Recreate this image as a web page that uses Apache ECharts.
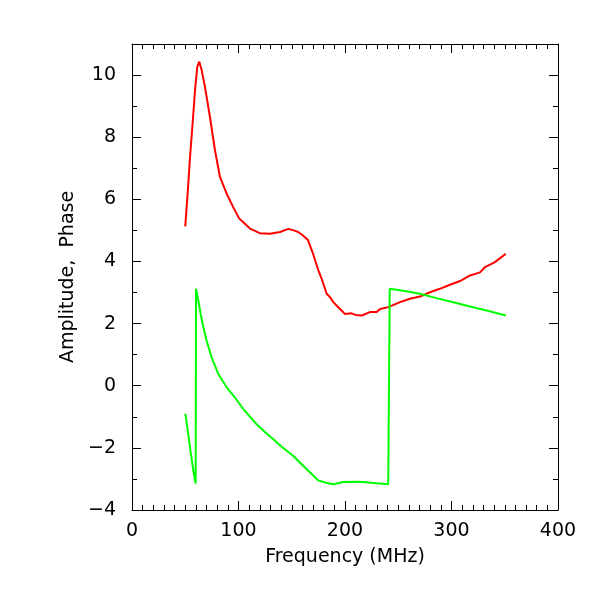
<!DOCTYPE html>
<html>
<head>
<meta charset="utf-8">
<script src="https://cdn.jsdelivr.net/npm/echarts@6/dist/echarts.min.js"></script>
<style>
  html, body { margin: 0; padding: 0; background: #fff; }
  #chart { width: 600px; height: 600px; }
</style>
</head>
<body>
<div id="chart"></div>
<script>
// amplitude (red)
const ampFreq = [50, 50.7, 52, 54.5, 56.9, 59.2, 61.3, 63.2, 65.4, 68.5, 73.2, 77.9, 82.6, 88.9, 95, 100.7, 110.8, 120, 129.6, 139, 146.8, 152, 156, 160, 165, 170, 175, 178, 182.8, 186, 189, 193, 200, 206, 210, 215.7, 223.5, 229.7, 233, 240.7, 242, 251.6, 261, 270.4, 279.8, 289, 298.6, 308, 317.4, 326.8, 331.5, 340.8, 351];
const ampVals = [5.13, 5.16, 6.07, 7.36, 8.44, 9.52, 10.27, 10.43, 10.16, 9.62, 8.65, 7.58, 6.72, 6.18, 5.75, 5.38, 5.06, 4.91, 4.89, 4.95, 5.05, 5.0, 4.95, 4.85, 4.7, 4.25, 3.71, 3.45, 2.96, 2.85, 2.69, 2.55, 2.31, 2.33, 2.28, 2.26, 2.37, 2.37, 2.47, 2.53, 2.5, 2.69, 2.8, 2.87, 3.01, 3.12, 3.25, 3.37, 3.55, 3.65, 3.82, 3.98, 4.25];

// phase (green)
const phaseFreq = [50, 50.4, 54.5, 57.6, 59.8, 60.1, 62.3, 64.5, 67, 70.1, 74.8, 81, 88.9, 96.7, 104.5, 117, 125, 132.7, 140, 151.5, 164, 175, 182, 189, 198.4, 214, 229.7, 240.6, 241, 242, 254.8, 270.4, 286, 301.7, 317.4, 333, 351];
const phaseVals = [-0.9, -0.97, -1.99, -2.74, -3.15, 3.12, 2.74, 2.31, 1.88, 1.45, 0.91, 0.38, -0.05, -0.38, -0.75, -1.24, -1.5, -1.72, -1.95, -2.26, -2.69, -3.05, -3.12, -3.17, -3.1, -3.09, -3.14, -3.17, -3.17, 3.12, 3.06, 2.96, 2.82, 2.69, 2.55, 2.42, 2.26];

const xMin = 0, xMax = 400, xStep = 100;
const yMin = -4, yMax = 11, yStep = 2;

const font = "DejaVu Sans";
const chart = echarts.init(document.getElementById("chart"));

function pairs(xs, ys) {
  return xs.map((x, i) => [x, ys[i]]);
}

const lineStyle = { color: "#000", width: 1 };

function xAxis(position, showLabel) {
  return {
    type: "value",
    position: position,
    min: xMin,
    max: xMax,
    interval: xStep,
    name: showLabel ? "Frequency (MHz)" : "",
    nameLocation: "middle",
    nameGap: 38,
    nameTextStyle: { fontFamily: font, fontSize: 19, color: "#000" },
    axisLine: { show: true, onZero: false, lineStyle: lineStyle },
    axisTick: { show: true, inside: true, length: 9, lineStyle: lineStyle },
    minorTick: { show: true, splitNumber: 10, length: 5, lineStyle: lineStyle },
    axisLabel: { show: showLabel, fontFamily: font, fontSize: 19, color: "#000", margin: 12 },
    splitLine: { show: false },
    minorSplitLine: { show: false }
  };
}

function yAxis(position, showLabel) {
  return {
    type: "value",
    position: position,
    min: yMin,
    max: yMax,
    interval: yStep,
    name: showLabel ? "Amplitude,  Phase" : "",
    nameLocation: "middle",
    nameGap: 54,
    nameRotate: 90,
    nameTextStyle: { fontFamily: font, fontSize: 19, color: "#000" },
    axisLine: { show: true, onZero: false, lineStyle: lineStyle },
    axisTick: { show: true, inside: true, length: 9, lineStyle: lineStyle },
    minorTick: { show: true, splitNumber: 2, length: 5, lineStyle: lineStyle },
    axisLabel: {
      show: showLabel, fontFamily: font, fontSize: 19, color: "#000", margin: 16,
      formatter: (v) => (v > 10 ? "" : String(v).replace("-", "\u2212"))
    },
    splitLine: { show: false },
    minorSplitLine: { show: false }
  };
}

chart.setOption({
  animation: false,
  backgroundColor: "#fff",
  grid: { left: 132, right: 42, top: 44, bottom: 90 },
  xAxis: [xAxis("bottom", true), xAxis("top", false)],
  yAxis: [yAxis("left", true), yAxis("right", false)],
  series: [
    {
      type: "line",
      data: pairs(ampFreq, ampVals),
      showSymbol: false,
      lineStyle: { color: "#ff0000", width: 2 }
    },
    {
      type: "line",
      data: pairs(phaseFreq, phaseVals),
      showSymbol: false,
      lineStyle: { color: "#00ff00", width: 2 }
    }
  ]
});
</script>
</body>
</html>
